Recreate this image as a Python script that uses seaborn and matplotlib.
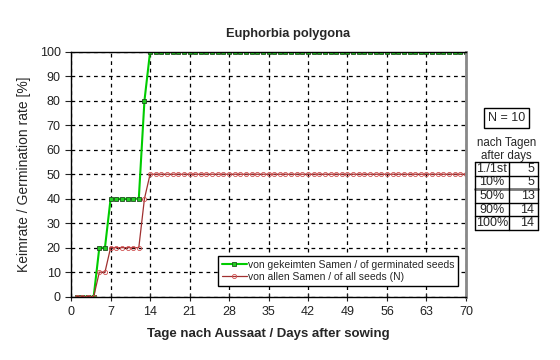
import numpy as np
import pandas as pd
import matplotlib
matplotlib.use("Agg")
import matplotlib.pyplot as plt
import seaborn as sns

# days after sowing (one reading per day)
days = list(range(1, 71))
# germination of germinated seeds [%]
germinated = [0, 0, 0, 0, 20, 20, 40, 40, 40, 40, 40, 40, 80] + [100] * 57
# germination of all seeds [%]
all_seeds = [0, 0, 0, 0, 10, 10, 20, 20, 20, 20, 20, 20, 40] + [50] * 57

x_ticks = [0, 7, 14, 21, 28, 35, 42, 49, 56, 63, 70]
y_ticks = [0, 10, 20, 30, 40, 50, 60, 70, 80, 90, 100]

table_rows = ["1./1st", "10%", "50%", "90%", "100%"]
table_days = [5, 5, 13, 14, 14]
n_seeds = 10

df = pd.DataFrame({"day": days, "germ": germinated, "all": all_seeds})

sns.set_style("white")
plt.rcParams["font.family"] = ["Liberation Sans", "DejaVu Sans"]

fig = plt.figure(figsize=(5.6, 3.6), dpi=100)
ax = fig.add_axes([0.127, 0.176, 0.705, 0.680])

sns.lineplot(data=df, x="day", y="germ", ax=ax, color="#00cc00", lw=1.5,
             marker="s", markersize=3, markerfacecolor="#22cc22",
             markeredgecolor="#205020", markeredgewidth=0.6,
             label="von gekeimten Samen / of germinated seeds")
sns.lineplot(data=df, x="day", y="all", ax=ax, color="#a03030", lw=0.9,
             marker="o", markersize=3, markerfacecolor="none",
             markeredgecolor="#d05050", markeredgewidth=0.6,
             label="von allen Samen / of all seeds (N)")

ax.set_xlim(0, 70)
ax.set_ylim(0, 100)
ax.set_xticks(x_ticks)
ax.set_xticks(range(0, 71), minor=True)
ax.set_yticks(y_ticks)
ax.tick_params(axis="x", which="major", direction="inout", length=6, width=0.8,
               labelsize=9, colors="#222222", pad=4)
ax.tick_params(axis="x", which="minor", direction="inout", length=4, width=0.6)
ax.tick_params(axis="y", which="major", direction="out", length=4, width=0.8,
               labelsize=9, colors="#222222")
ax.xaxis.set_tick_params(bottom=True)
ax.yaxis.set_tick_params(left=True)
ax.grid(True, color="black", linestyle=(0, (3, 3)), linewidth=0.9)

for s in ["left", "bottom", "top"]:
    ax.spines[s].set_color("black")
    ax.spines[s].set_linewidth(1.0)
ax.spines["right"].set_color("#888888")
ax.spines["right"].set_linewidth(2.0)

ax.set_title("Euphorbia polygona", fontsize=9.3, fontweight="bold", pad=11,
             x=0.55)
ax.set_xlabel("Tage nach Aussaat / Days after sowing", fontsize=9.5,
              fontweight="bold", labelpad=7)
ax.set_ylabel("Keimrate / Germination rate [%]", fontsize=10, labelpad=6)

leg = ax.legend(loc="lower right", bbox_to_anchor=(0.98, 0.045), fontsize=7.5,
                frameon=True, fancybox=False, edgecolor="black",
                framealpha=1, handlelength=2.4, handletextpad=0.1,
                borderpad=0.35, labelspacing=0.2, borderaxespad=0)
leg.get_frame().set_linewidth(1.0)

# info box at the right
fig.text(0.905, 0.672, f"N = {n_seeds}", ha="center", va="center", fontsize=9,
         bbox=dict(boxstyle="square,pad=0.3", fc="white", ec="black", lw=1.0))
fig.text(0.904, 0.603, "nach Tagen", ha="center", va="center", fontsize=8.3)
fig.text(0.904, 0.568, "after days", ha="center", va="center", fontsize=8.3)

tbl = fig.add_axes([0.848, 0.361, 0.112, 0.189])
tbl.set_xlim(0, 1)
tbl.set_ylim(0, len(table_rows))
tbl.axis("off")
for i, (lab, d) in enumerate(zip(table_rows, table_days)):
    yy = len(table_rows) - i - 0.5
    tbl.text(0.27, yy, lab, ha="center", va="center", fontsize=9)
    tbl.text(0.95, yy, str(d), ha="right", va="center", fontsize=9)
for k in range(len(table_rows) + 1):
    lw = 2.0 if k == 3 else 1.0
    col = "#777777" if k == 3 else "black"
    tbl.plot([0, 1], [k, k], color=col, lw=lw, clip_on=False)
for xx in [0, 0.55, 1]:
    tbl.plot([xx, xx], [0, len(table_rows)], color="black", lw=1.0, clip_on=False)

fig.savefig("out.png", dpi=100)
